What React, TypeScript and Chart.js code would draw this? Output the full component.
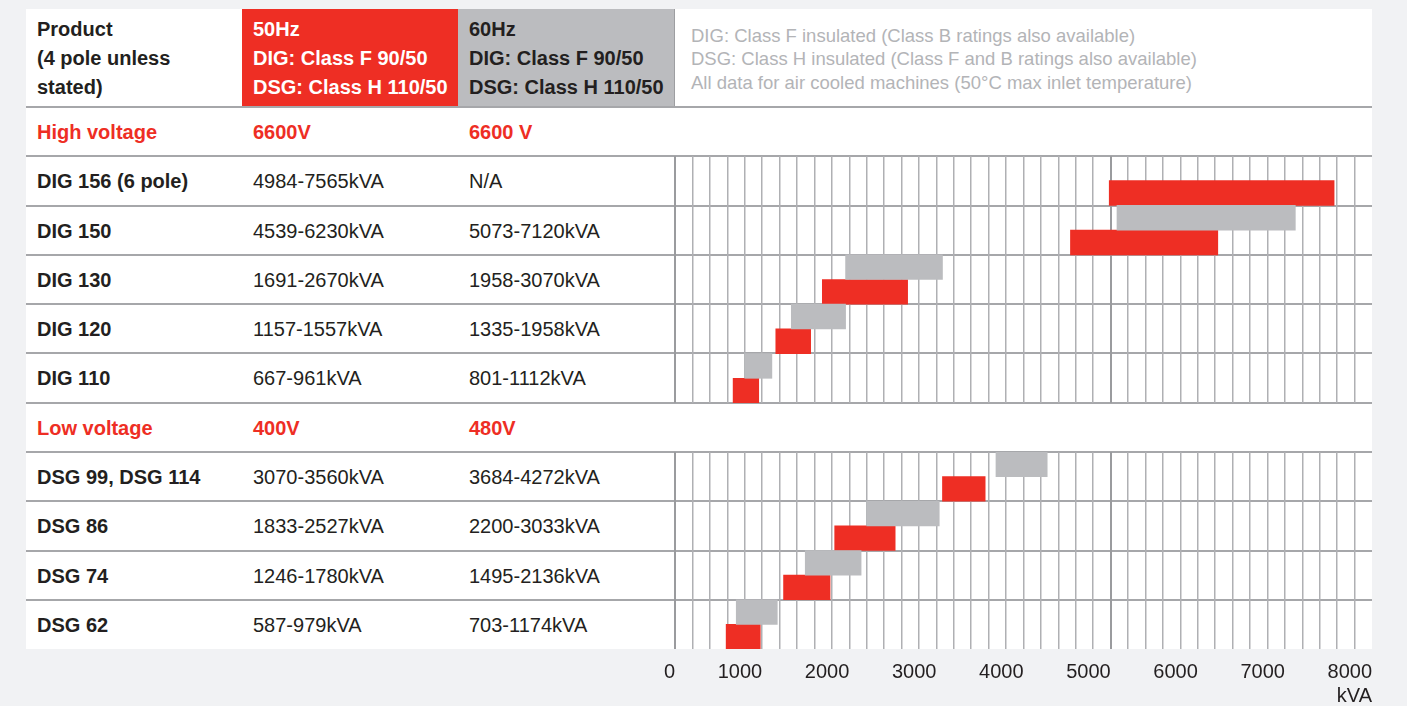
import React, { useEffect, useRef } from 'react';
import { Chart, registerables } from 'chart.js';

Chart.register(...registerables);

// ---------- data ----------
const hvProducts = ['DIG 156 (6 pole)', 'DIG 150', 'DIG 130', 'DIG 120', 'DIG 110'];
const hv50Hz = [[4984, 7565], [4539, 6230], [1691, 2670], [1157, 1557], [667, 961]];
const hv60Hz = [null, [5073, 7120], [1958, 3070], [1335, 1958], [801, 1112]];

const lvProducts = ['DSG 99, DSG 114', 'DSG 86', 'DSG 74', 'DSG 62'];
const lv50Hz = [[3070, 3560], [1833, 2527], [1246, 1780], [587, 979]];
const lv60Hz = [[3684, 4272], [2200, 3033], [1495, 2136], [703, 1174]];

const axisMin = 0;
const axisMax = 8000;
const gridStep = 200;
const labelStep = 1000;
const axisUnit = 'kVA';

const headerProduct = ['Product', '(4 pole unless', 'stated)'];
const header50 = ['50Hz', 'DIG: Class F 90/50', 'DSG: Class H 110/50'];
const header60 = ['60Hz', 'DIG: Class F 90/50', 'DSG: Class H 110/50'];
const notes = [
  'DIG: Class F insulated (Class B ratings also available)',
  'DSG: Class H insulated (Class F and B ratings also available)',
  'All data for air cooled machines (50°C max inlet temperature)',
];
const hvSection = ['High voltage', '6600V', '6600 V'];
const lvSection = ['Low voltage', '400V', '480V'];

// ---------- style ----------
const FONT = '"Liberation Sans", Arial, Helvetica, sans-serif';
const RED = '#ee2e24';
const GREY = '#bbbcbf';
const DARK = '#231f20';
const LINE = '#a6a7aa';
const PAGE_BG = '#f1f2f4';
const NOTE = '#b3b4b7';
const FS = 20;

const COLS = [37, 253, 469];
const LINES = [107, 156, 206, 255, 304, 353, 403, 452, 501, 551, 600];
const PANEL = { left: 26, top: 9, right: 1372, bottom: 649 };
const CHART_LEFT = 645;
const PAD_LEFT = 30;
const TICK_PAD = 11;
const AXIS_PAD_BOTTOM = 10;

const rangeText = (r: number[] | null) => (r ? `${r[0]}-${r[1]}kVA` : 'N/A');

function BarPanel(props: {
  labels: string[];
  d50: (number[] | null)[];
  d60: (number[] | null)[];
  showAxis: boolean;
  top: number;
  height: number;
}) {
  const ref = useRef<HTMLCanvasElement | null>(null);
  const width = PANEL.right - CHART_LEFT + (props.showAxis ? TICK_PAD : 0);
  useEffect(() => {
    if (!ref.current) return;
    const chart = new Chart(ref.current, {
      type: 'bar',
      data: {
        labels: props.labels,
        datasets: [
          {
            label: '60Hz',
            data: props.d60 as any,
            backgroundColor: GREY,
            borderWidth: 0,
            categoryPercentage: 1,
            barPercentage: 1,
          },
          {
            label: '50Hz',
            data: props.d50 as any,
            backgroundColor: RED,
            borderWidth: 0,
            categoryPercentage: 1,
            barPercentage: 1,
          },
        ],
      },
      options: {
        indexAxis: 'y',
        animation: false,
        responsive: false,
        devicePixelRatio: 1,
        layout: {
          padding: { left: PAD_LEFT, right: 0, top: 0, bottom: props.showAxis ? AXIS_PAD_BOTTOM : 0 },
        },
        plugins: { legend: { display: false }, tooltip: { enabled: false } },
        scales: {
          x: {
            type: 'linear',
            min: axisMin,
            max: axisMax,
            position: 'bottom',
            border: { display: false },
            grid: {
              drawTicks: false,
              color: (ctx: any) => {
                const v = ctx.tick ? ctx.tick.value : 0;
                if (v === axisMax) return 'rgba(0,0,0,0)';
                if (v === 0 || v === 5000) return '#9a9b9e';
                return '#afb0b3';
              },
              lineWidth: (ctx: any) => {
                const v = ctx.tick ? ctx.tick.value : 0;
                return v === 0 || v === 5000 ? 2 : 1.5;
              },
            },
            ticks: {
              display: props.showAxis,
              stepSize: gridStep,
              autoSkip: false,
              align: 'end',
              padding: TICK_PAD,
              maxRotation: 0,
              color: DARK,
              font: { family: FONT, size: FS, lineHeight: 1.2 },
              callback: (v: any) => (Number(v) % labelStep === 0 ? String(v) : ''),
            },
            title: {
              display: props.showAxis,
              text: axisUnit,
              align: 'end',
              color: DARK,
              font: { family: FONT, size: FS, lineHeight: 0.15 },
              padding: { top: 0, bottom: 0 },
            },
          },
          y: { type: 'category', display: false, offset: true },
        },
      } as any,
    });
    return () => chart.destroy();
  }, []);
  return (
    <canvas
      ref={ref}
      width={width}
      height={props.height}
      style={{ position: 'absolute', left: CHART_LEFT, top: props.top, width, height: props.height }}
    />
  );
}

function TextLine(props: { x: number; cy: number; text: string; bold?: boolean; color?: string }) {
  return (
    <div
      style={{
        position: 'absolute',
        left: props.x,
        top: props.cy - 15,
        height: 30,
        lineHeight: '30px',
        fontSize: FS,
        fontWeight: props.bold ? 700 : 400,
        color: props.color || DARK,
        whiteSpace: 'nowrap',
      }}
    >
      {props.text}
    </div>
  );
}

function HeaderBlock(props: { x: number; lines: string[]; color: string }) {
  return (
    <div
      style={{
        position: 'absolute',
        left: props.x,
        top: 15,
        lineHeight: '29px',
        fontSize: FS,
        fontWeight: 700,
        color: props.color,
        whiteSpace: 'nowrap',
      }}
    >
      {props.lines.map((l, i) => (
        <div key={i}>{l}</div>
      ))}
    </div>
  );
}

export default function App() {
  const hvCenters = hvProducts.map((_, i) => (LINES[1 + i] + LINES[2 + i]) / 2);
  const lvBounds = [...LINES.slice(7), PANEL.bottom];
  const lvCenters = lvProducts.map((_, i) => (lvBounds[i] + lvBounds[i + 1]) / 2);
  const hvSectionCy = (LINES[0] + LINES[1]) / 2;
  const lvSectionCy = (LINES[6] + LINES[7]) / 2;

  return (
    <div
      style={{
        position: 'absolute',
        left: 0,
        top: 0,
        width: 1407,
        height: 706,
        overflow: 'hidden',
        background: PAGE_BG,
        fontFamily: FONT,
      }}
    >
      <div
        style={{
          position: 'absolute',
          left: PANEL.left,
          top: PANEL.top,
          width: PANEL.right - PANEL.left,
          height: PANEL.bottom - PANEL.top,
          background: '#ffffff',
        }}
      />
      <div style={{ position: 'absolute', left: 242, top: 9, width: 216, height: 97, background: RED }} />
      <div
        style={{
          position: 'absolute',
          left: 458,
          top: 9,
          width: 217,
          height: 97,
          background: GREY,
          borderRight: '1.5px solid #9d9ea1',
          boxSizing: 'border-box',
        }}
      />
      <HeaderBlock x={COLS[0]} lines={headerProduct} color={DARK} />
      <HeaderBlock x={COLS[1]} lines={header50} color="#ffffff" />
      <HeaderBlock x={COLS[2]} lines={header60} color={DARK} />
      <div
        style={{
          position: 'absolute',
          left: 691,
          top: 23.5,
          lineHeight: '23.8px',
          fontSize: 18.5,
          color: NOTE,
          whiteSpace: 'nowrap',
        }}
      >
        {notes.map((n, i) => (
          <div key={i}>{n}</div>
        ))}
      </div>

      {LINES.map((y, i) => (
        <div
          key={i}
          style={{
            position: 'absolute',
            left: PANEL.left,
            top: y - 1,
            width: PANEL.right - PANEL.left,
            height: 2,
            background: LINE,
          }}
        />
      ))}

      {hvSection.map((t, i) => (
        <TextLine key={'hv' + i} x={COLS[i]} cy={hvSectionCy} text={t} bold color={RED} />
      ))}
      {lvSection.map((t, i) => (
        <TextLine key={'lv' + i} x={COLS[i]} cy={lvSectionCy} text={t} bold color={RED} />
      ))}

      {hvProducts.map((p, i) => (
        <React.Fragment key={'hp' + i}>
          <TextLine x={COLS[0]} cy={hvCenters[i]} text={p} bold />
          <TextLine x={COLS[1]} cy={hvCenters[i]} text={rangeText(hv50Hz[i])} />
          <TextLine x={COLS[2]} cy={hvCenters[i]} text={rangeText(hv60Hz[i])} />
        </React.Fragment>
      ))}
      {lvProducts.map((p, i) => (
        <React.Fragment key={'lp' + i}>
          <TextLine x={COLS[0]} cy={lvCenters[i]} text={p} bold />
          <TextLine x={COLS[1]} cy={lvCenters[i]} text={rangeText(lv50Hz[i])} />
          <TextLine x={COLS[2]} cy={lvCenters[i]} text={rangeText(lv60Hz[i])} />
        </React.Fragment>
      ))}

      <BarPanel labels={hvProducts} d50={hv50Hz} d60={hv60Hz} showAxis={false} top={LINES[1]} height={LINES[6] - LINES[1]} />
      <BarPanel labels={lvProducts} d50={lv50Hz} d60={lv60Hz} showAxis={true} top={LINES[7]} height={256} />
    </div>
  );
}
